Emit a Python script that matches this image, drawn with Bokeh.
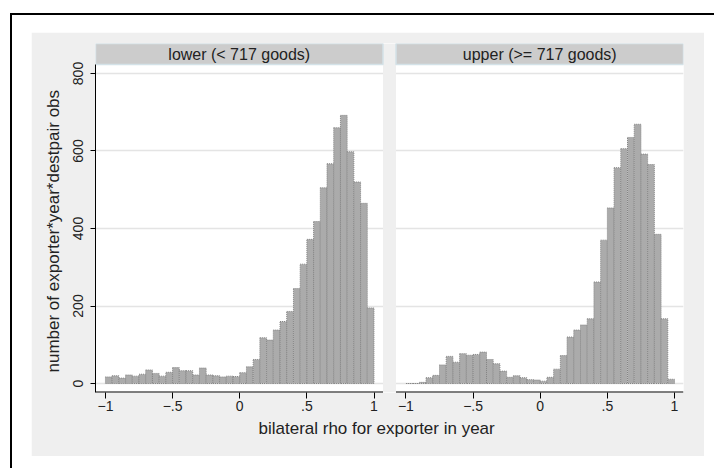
import numpy as np
from bokeh.plotting import figure
from bokeh.models import Range1d, LinearAxis, FixedTicker, Column, Grid, Title
from bokeh.embed import file_html
from bokeh.resources import INLINE
from bokeh.core.properties import value

# ---------------- data ----------------
panels = ["lower (< 717 goods)", "upper (>= 717 goods)"]
bin_start = -1.0
bin_width = 0.05
lower_counts = [17, 20, 14, 22, 19, 24, 35, 26, 19, 29,
                41, 33, 33, 22, 40, 22, 20, 17, 19, 18,
                28, 43, 62, 118, 112, 138, 160, 186, 245, 308,
                372, 418, 505, 567, 660, 692, 598, 520, 465, 195]
upper_counts = [0, 0, 3, 15, 21, 48, 70, 55, 77, 73,
                75, 81, 62, 51, 32, 16, 20, 15, 10, 9,
                6, 16, 37, 72, 120, 138, 151, 167, 262, 370,
                453, 557, 606, 635, 669, 592, 565, 385, 167, 11]
x_ticks = [-1, -0.5, 0, 0.5, 1]
x_tick_labels = ["\u22121", "\u2212.5", "0", ".5", "1"]
y_ticks = [0, 200, 400, 600, 800]
y_tick_labels = ["0", "200", "400", "600", "800"]
x_title = "bilateral rho for exporter in year"
y_title = "number of exporter*year*destpair obs"

# ---------------- layout constants ----------------
FONT = "Liberation Sans"
XLO, XHI = -1.074, 1.067          # data extent of each panel
GAP = 0.0967                      # gap between panels (x units)
OFFSET = (XHI - XLO) + GAP        # shift of right panel
YLO, YPANEL, YHI = -23.2, 823.2, 877.4
BG = "#efefef"
TXT = "#222222"

edges = bin_start + bin_width * np.arange(len(lower_counts) + 1)

p = figure(width=673, height=424, output_backend="svg", toolbar_location=None,
           x_range=Range1d(XLO, XLO + OFFSET + (XHI - XLO)),
           y_range=Range1d(YLO, YHI),
           x_axis_type=None, y_axis_type=None,
           min_border_left=64, min_border_right=21, min_border_top=11, min_border_bottom=64,
           background_fill_color="white", border_fill_color=BG, outline_line_color=None,
           margin=(19, 10, 12, 21))
p.extra_x_ranges = {"right": Range1d(XLO - OFFSET, XHI)}

# horizontal grid
grid = Grid(dimension=1, ticker=FixedTicker(ticks=y_ticks),
            grid_line_color="#e4e4e4", grid_line_width=1.5)
p.add_layout(grid)

# bars
p.quad(left=edges[:-1], right=edges[1:], bottom=0, top=lower_counts,
       fill_color="#ababab", line_color="#858585", line_dash="1 1", line_width=1)
p.quad(left=edges[:-1], right=edges[1:], bottom=0, top=upper_counts,
       fill_color="#ababab", line_color="#858585", line_dash="1 1", line_width=1,
       x_range_name="right")

# gap between panels
p.quad(left=[XHI], right=[XHI + GAP], bottom=[YLO], top=[YHI],
       fill_color=BG, line_color=None)

# panel headers
for rng in ["default", "right"]:
    p.quad(left=[XLO], right=[XHI], bottom=[YPANEL], top=[YHI],
           fill_color="#cccccc", line_color="#d4e2e8", line_width=1.5,
           x_range_name=rng)
p.text(x=[(XLO + XHI) / 2], y=[(YPANEL + YHI) / 2], text=[panels[0]],
       text_align="center", text_baseline="middle", text_font=value(FONT),
       text_font_size="16px", text_color=TXT)
p.text(x=[(XLO + XHI) / 2], y=[(YPANEL + YHI) / 2], text=[panels[1]],
       text_align="center", text_baseline="middle", text_font=value(FONT),
       text_font_size="16px", text_color=TXT, x_range_name="right")

# x axis lines per panel
for rng in ["default", "right"]:
    p.segment(x0=[XLO], x1=[XHI], y0=[YLO], y1=[YLO], line_color="black",
              line_width=2, x_range_name=rng)

# x axis (shared, ticks for both panels)
tick_pos = list(x_ticks) + [t + OFFSET for t in x_ticks]
overrides = {}
for t, lab in zip(x_ticks, x_tick_labels):
    overrides[t] = lab
    overrides[t + OFFSET] = lab
xaxis = LinearAxis(ticker=FixedTicker(ticks=tick_pos), major_label_overrides=overrides,
                   axis_line_color=None, major_tick_line_color="black",
                   major_tick_out=6, major_tick_in=0, minor_tick_out=0, minor_tick_in=0,
                   major_label_standoff=2,
                   major_label_text_font=FONT, major_label_text_font_size="14px",
                   major_label_text_color=TXT)
p.add_layout(xaxis, "below")

# y axis
yaxis = LinearAxis(ticker=FixedTicker(ticks=y_ticks),
                   major_label_overrides={t: l for t, l in zip(y_ticks, y_tick_labels)},
                   bounds=(YLO, YPANEL), axis_line_color="black", axis_line_width=1,
                   major_tick_line_color="black", major_tick_out=5, major_tick_in=0,
                   minor_tick_out=0, minor_tick_in=0,
                   major_label_orientation="vertical", major_label_standoff=7,
                   major_label_text_font=FONT, major_label_text_font_size="14px",
                   major_label_text_color=TXT)
p.add_layout(yaxis, "left")

# axis titles
tx = Title(text=x_title, align="left", offset=163, standoff=6,
           text_font=FONT, text_font_size="17px", text_font_style="normal",
           text_color=TXT)
p.add_layout(tx, "below")
ty = Title(text=y_title, align="left", offset=20, standoff=16,
           text_font=FONT, text_font_size="17px", text_font_style="normal",
           text_color=TXT)
p.add_layout(ty, "left")

frame_bg = ("linear-gradient(#000, #000) 0 0 / 100% 2px no-repeat, "
            "linear-gradient(#000, #000) 0 0 / 2px 100% no-repeat, #ffffff")
page = Column(children=[p], margin=(13, 0, 0, 10),
              styles={"background": frame_bg, "overflow": "hidden"})

open("out.html", "w").write(file_html(page, INLINE))
